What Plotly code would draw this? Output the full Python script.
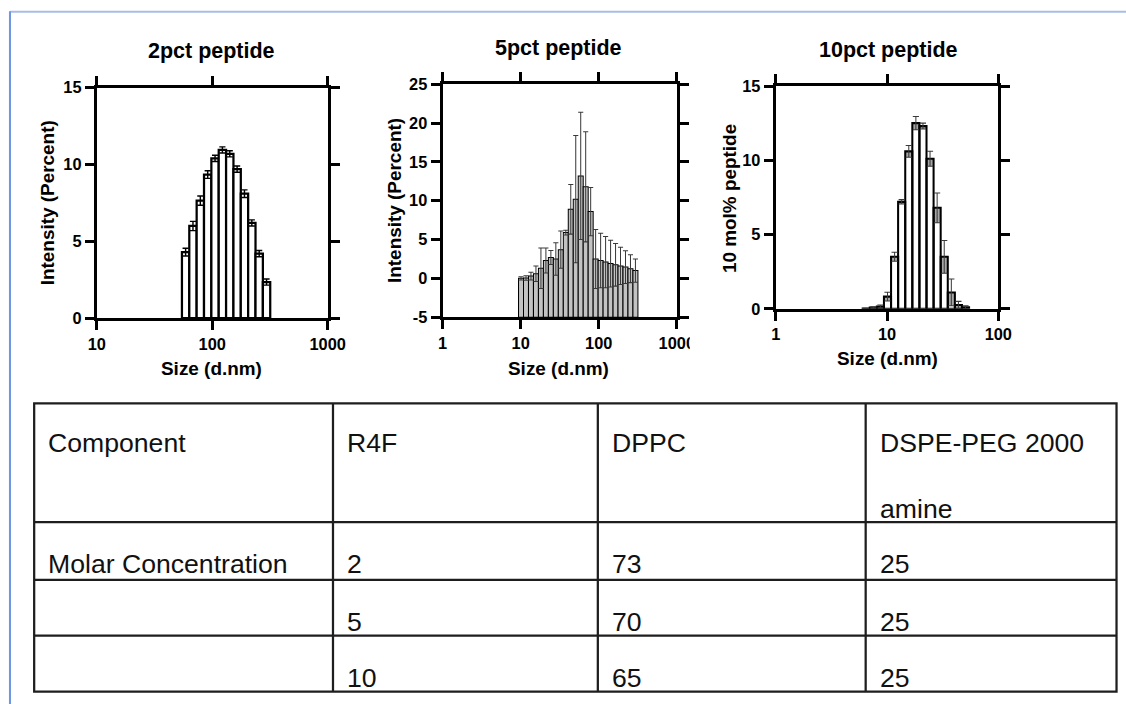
import numpy as np
import plotly.graph_objects as go

# Layout is specified in target-page pixels; the page is shown with an 8px body
# margin and a slight zoom-out, so positions and sizes are converted below.
PAGE_W, PAGE_H = 1126, 704
ZOOM = 0.977
BODY_MARGIN = 8
W = int(round(PAGE_W / ZOOM - BODY_MARGIN))
H = int(round(PAGE_H / ZOOM - BODY_MARGIN))
FONT = "Liberation Sans, Arial, sans-serif"

# ---- DLS intensity distributions: size bins (d.nm), mean intensity (%), SD ----
size_2pct = [58.77, 68.06, 78.82, 91.28, 105.7, 122.4, 141.8, 164.2, 190.1, 220.2, 255.0, 295.3]
int_2pct = [4.3, 6.0, 7.65, 9.35, 10.4, 10.95, 10.7, 9.7, 8.1, 6.2, 4.2, 2.35]
sd_2pct = [0.25, 0.3, 0.3, 0.25, 0.2, 0.2, 0.2, 0.2, 0.25, 0.2, 0.2, 0.2]

size_5pct = [10.1, 11.7, 13.54, 15.69, 18.17, 21.04, 24.36, 28.21, 32.67, 37.84, 43.82, 50.75,
             58.77, 68.06, 78.82, 91.28, 105.7, 122.4, 141.8, 164.2, 190.1, 220.2, 255.0, 295.3]
int_5pct = [0.0, 0.05, 0.3, 0.6, 1.3, 2.3, 2.7, 2.5, 3.7, 5.9, 8.9, 10.2,
            13.2, 11.8, 8.6, 2.5, 2.3, 2.1, 1.9, 1.75, 1.6, 1.45, 1.25, 1.0]
sd_5pct = [0.2, 0.3, 0.5, 1.0, 2.6, 1.6, 0.9, 2.1, 2.4, 0.3, 3.2, 8.2,
           8.2, 7.1, 3.1, 3.8, 3.5, 3.3, 3.0, 2.75, 2.4, 2.1, 1.8, 1.5]

size_10pct = [6.503, 7.531, 8.721, 10.1, 11.7, 13.54, 15.69, 18.17, 21.04, 24.36, 28.21,
              32.67, 37.84, 43.82, 50.75]
int_10pct = [0.02, 0.08, 0.15, 0.82, 3.5, 7.2, 10.6, 12.5, 12.3, 10.1, 6.8, 3.5, 1.1, 0.25, 0.1]
sd_10pct = [0.02, 0.05, 0.1, 0.3, 0.3, 0.15, 0.4, 0.45, 0.2, 0.5, 1.0, 1.1, 0.9, 0.25, 0.1]

# ---- axis ticks ----
xt_2pct = [10, 100, 1000]
xt_5pct = [1, 10, 100, 1000]
xt_10pct = [1, 10, 100]
yt_2pct = [0, 5, 10, 15]
yt_5pct = [-5, 0, 5, 10, 15, 20, 25]
yt_10pct = [0, 5, 10, 15]

titles = ["2pct peptide", "5pct peptide", "10pct peptide"]
y_titles = ["Intensity (Percent)", "Intensity (Percent)", "10 mol% peptide"]
x_title = "Size (d.nm)"

# ---- composition table ----
table_header = ["Component", "R4F", "DPPC", "DSPE-PEG 2000"]
header_second_line = ["", "", "", "amine"]
table_rows = [
    ["Molar Concentration", "2", "73", "25"],
    ["", "5", "70", "25"],
    ["", "10", "65", "25"],
]


def sz(v):
    """page-pixel size -> figure-pixel size"""
    return v / ZOOM


def px(x):
    """page x pixel -> paper fraction"""
    return (x / ZOOM - BODY_MARGIN) / W


def py(y):
    """page y pixel -> paper fraction"""
    return 1 - (y / ZOOM - BODY_MARGIN) / H


fig = go.Figure()

# plot boxes in page pixels: (left, right, top, bottom)
boxes = [(95.7, 326.7, 86.7, 317.7), (441.7, 676.0, 83.3, 316.7), (775.0, 997.7, 85.0, 308.3)]
x_ranges = [[1, 3], [0, 3], [0, 2]]
y_ranges = [[0, 15], [-5, 25], [0, 15]]
x_ticks = [xt_2pct, xt_5pct, xt_10pct]
y_ticks = [yt_2pct, yt_5pct, yt_10pct]
data = [(size_2pct, int_2pct, sd_2pct), (size_5pct, int_5pct, sd_5pct), (size_10pct, int_10pct, sd_10pct)]

bar_style = [
    dict(fill="white", line=2.2, base=0, band=False, ecolor="black", ethick=1.4, ewidth=3),
    dict(fill="#c2c2c2", line=1.0, base=-5, band=False, ecolor="#3a3a3a", ethick=1.0, ewidth=2.5),
    dict(fill="rgba(0,0,0,0)", line=2.0, base=0, band=True, ecolor="#3a3a3a", ethick=1.0, ewidth=3),
]

for i, ((sizes, vals, sds), st) in enumerate(zip(data, bar_style)):
    xa = "x" if i == 0 else f"x{i+1}"
    ya = "y" if i == 0 else f"y{i+1}"
    lx = np.log10(np.asarray(sizes, dtype=float))
    v = np.asarray(vals, dtype=float)
    e = np.asarray(sds, dtype=float)
    bw = float(np.diff(lx).mean())

    if st["band"]:
        # lower SD region shaded inside each bar
        fig.add_trace(go.Bar(x=lx, y=e, base=v - e, width=bw, xaxis=xa, yaxis=ya,
                             marker=dict(color="#a6a6a6", line=dict(width=0)),
                             showlegend=False, hoverinfo="skip"))
    fig.add_trace(go.Bar(x=lx, y=v - st["base"], base=st["base"], width=bw, xaxis=xa, yaxis=ya,
                         marker=dict(color=st["fill"], line=dict(color="black", width=sz(st["line"]))),
                         showlegend=False))
    fig.add_trace(go.Scatter(x=lx, y=v, mode="markers", xaxis=xa, yaxis=ya,
                             marker=dict(size=1, color="rgba(0,0,0,0)"),
                             error_y=dict(type="data", array=e, visible=True, color=st["ecolor"],
                                          thickness=sz(st["ethick"]), width=sz(st["ewidth"])),
                             showlegend=False, hoverinfo="skip"))

axis_common = dict(showline=True, linecolor="black", linewidth=sz(2.6), mirror="allticks",
                   ticks="outside", ticklen=sz(9), tickwidth=sz(2.6), tickcolor="black",
                   showgrid=False, zeroline=False,
                   tickfont=dict(family=FONT, size=sz(16), color="black", weight="bold"))

layout = dict(width=W, height=H, margin=dict(l=0, r=0, t=0, b=0),
              paper_bgcolor="white", plot_bgcolor="white", barmode="overlay",
              showlegend=False, font=dict(family=FONT, color="black"))

for i, (l, r, t, b) in enumerate(boxes):
    sfx = "" if i == 0 else str(i + 1)
    xt = x_ticks[i]
    yt = y_ticks[i]
    layout[f"xaxis{sfx}"] = dict(axis_common, domain=[px(l), px(r)], range=x_ranges[i],
                                 anchor=f"y{sfx}", tickmode="array",
                                 tickvals=list(np.log10(xt)), ticktext=[str(t_) for t_ in xt])
    layout[f"yaxis{sfx}"] = dict(axis_common, domain=[py(b), py(t)], range=y_ranges[i],
                                 anchor=f"x{sfx}", tickmode="array",
                                 tickvals=yt, ticktext=[str(t_) for t_ in yt])

fig.update_layout(**layout)

ann = []
title_pos = [(210.8, 50.0), (557.5, 46.7), (887.5, 49.3)]
ytitle_pos = [(46.7, 201.7), (393.3, 200.0), (728.3, 198.3)]
xtitle_pos = [(210.0, 368.3), (558.0, 368.3), (886.7, 358.3)]
for i in range(3):
    ann.append(dict(text=titles[i], x=px(title_pos[i][0]), y=py(title_pos[i][1]),
                    xref="paper", yref="paper", showarrow=False, xanchor="center", yanchor="middle",
                    font=dict(family=FONT, size=sz(21), color="black", weight="bold")))
    ann.append(dict(text=y_titles[i], x=px(ytitle_pos[i][0]), y=py(ytitle_pos[i][1]),
                    xref="paper", yref="paper", showarrow=False, xanchor="center", yanchor="middle",
                    textangle=-90, font=dict(family=FONT, size=sz(18.5), color="black", weight="bold")))
    ann.append(dict(text=x_title, x=px(xtitle_pos[i][0]), y=py(xtitle_pos[i][1]),
                    xref="paper", yref="paper", showarrow=False, xanchor="center", yanchor="middle",
                    font=dict(family=FONT, size=sz(18.5), color="black", weight="bold")))

# ---- table grid and text ----
col_edges = [33, 332, 597, 865, 1116]
row_edges = [403, 522, 580, 636, 692]
shapes = []
grid_col = "#1e1e1e"
grid_w = sz(2.2)
shapes.append(dict(type="rect", xref="paper", yref="paper", x0=px(col_edges[0]), x1=px(col_edges[-1]),
                   y0=py(row_edges[-1]), y1=py(row_edges[0]), line=dict(color=grid_col, width=grid_w)))
for ye in row_edges[1:-1]:
    shapes.append(dict(type="line", xref="paper", yref="paper", x0=px(col_edges[0]), x1=px(col_edges[-1]),
                       y0=py(ye), y1=py(ye), line=dict(color=grid_col, width=grid_w)))
for xe in col_edges[1:-1]:
    shapes.append(dict(type="line", xref="paper", yref="paper", x0=px(xe), x1=px(xe),
                       y0=py(row_edges[-1]), y1=py(row_edges[0]), line=dict(color=grid_col, width=grid_w)))

# page frame
left_rule = max(px(6.5), 1.0 / W)
shapes.append(dict(type="line", xref="paper", yref="paper", x0=left_rule, x1=1, y0=py(10.5), y1=py(10.5),
                   line=dict(color="#a7bce6", width=sz(2))))
shapes.append(dict(type="line", xref="paper", yref="paper", x0=left_rule, x1=left_rule, y0=0, y1=py(10),
                   line=dict(color="#6f96e0", width=sz(2))))
# the neighbouring panel covers the end of the last tick label of the middle panel
shapes.append(dict(type="rect", xref="paper", yref="paper", x0=px(689), x1=px(706), y0=py(356), y1=py(328),
                   fillcolor="white", line=dict(width=0), layer="above"))

cell_font = dict(family=FONT, size=sz(26), color="#111111")
text_inset = 12
for j, txt in enumerate(table_header):
    ann.append(dict(text=txt, x=px(col_edges[j] + text_inset), y=py(row_edges[0] + 40),
                    xref="paper", yref="paper", showarrow=False, xanchor="left", yanchor="middle",
                    font=cell_font))
    if header_second_line[j]:
        ann.append(dict(text=header_second_line[j], x=px(col_edges[j] + text_inset), y=py(row_edges[0] + 106),
                        xref="paper", yref="paper", showarrow=False, xanchor="left", yanchor="middle",
                        font=cell_font))
for r, row in enumerate(table_rows):
    top = row_edges[r + 1]
    for j, txt in enumerate(row):
        if not txt:
            continue
        ann.append(dict(text=txt, x=px(col_edges[j] + text_inset), y=py(top + 42),
                        xref="paper", yref="paper", showarrow=False, xanchor="left", yanchor="middle",
                        font=cell_font))

fig.update_layout(annotations=ann, shapes=shapes)
fig.write_html("out.html")
